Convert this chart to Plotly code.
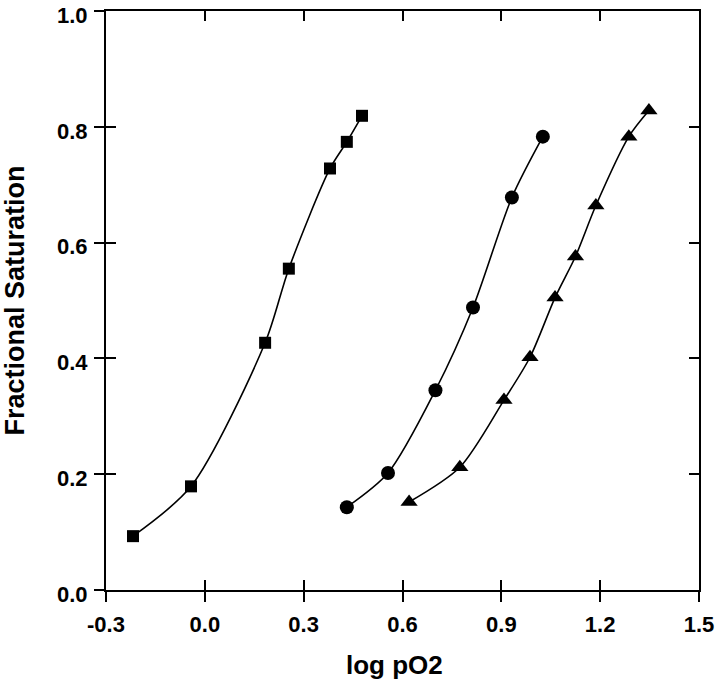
import plotly.graph_objects as go

# Data
sq_x = [-0.218, -0.042, 0.183, 0.255, 0.380, 0.431, 0.477]
sq_y = [0.093, 0.179, 0.427, 0.555, 0.728, 0.774, 0.819]

ci_x = [0.431, 0.556, 0.700, 0.814, 0.932, 1.026]
ci_y = [0.143, 0.202, 0.345, 0.488, 0.678, 0.783]

tr_x = [0.620, 0.774, 0.908, 0.987, 1.063, 1.125, 1.187, 1.287, 1.348]
tr_y = [0.152, 0.212, 0.328, 0.402, 0.505, 0.576, 0.664, 0.783, 0.828]

x_ticks = [-0.3, 0.0, 0.3, 0.6, 0.9, 1.2, 1.5]
x_labels = ["-0.3", "0.0", "0.3", "0.6", "0.9", "1.2", "1.5"]
y_ticks = [0.0, 0.2, 0.4, 0.6, 0.8, 1.0]
y_labels = ["0.0", "0.2", "0.4", "0.6", "0.8", "1.0"]

FONT = "Liberation Sans, Arial, sans-serif"

fig = go.Figure()
for xs, ys, sym, sz in [(sq_x, sq_y, "square", 12), (ci_x, ci_y, "circle", 14), (tr_x, tr_y, "triangle-up", 15)]:
    fig.add_trace(go.Scatter(
        x=xs, y=ys, mode="lines+markers",
        line=dict(color="black", width=1.6, shape="spline", smoothing=0.8),
        marker=dict(symbol=sym, size=sz, color="black"),
        showlegend=False, xaxis="x", yaxis="y",
    ))

# invisible trace to activate the overlay axes (inside ticks + mirrored frame)
fig.add_trace(go.Scatter(x=[x_ticks[1]], y=[y_ticks[1]], mode="markers",
                         marker=dict(opacity=0), xaxis="x2", yaxis="y2",
                         showlegend=False, hoverinfo="skip"))

common = dict(showline=True, linecolor="black", linewidth=2, tickcolor="black",
              tickwidth=2, ticklen=10, showgrid=False, zeroline=False, automargin=False)

fig.update_layout(
    width=720, height=692,
    margin=dict(l=106, r=21, t=11, b=102),
    paper_bgcolor="white", plot_bgcolor="white",
    xaxis=dict(range=[-0.3, 1.5], tickvals=x_ticks, ticktext=x_labels, ticks="outside",
               tickfont=dict(family=FONT, size=22, color="black", weight="bold"),
               ticklabeloverflow="allow", ticklabelstandoff=4, **common),
    yaxis=dict(range=[0, 1.0], tickvals=y_ticks, ticktext=y_labels, ticks="outside",
               tickfont=dict(family=FONT, size=22, color="black", weight="bold"),
               ticklabeloverflow="allow", ticklabelshift=4, ticklabelstandoff=2, **common),
    xaxis2=dict(range=[-0.3, 1.5], tickvals=x_ticks, ticks="inside", mirror="ticks",
                overlaying="x", anchor="y2", side="bottom", showticklabels=False, **common),
    yaxis2=dict(range=[0, 1.0], tickvals=y_ticks, ticks="inside", mirror="ticks",
                overlaying="y", anchor="x2", side="left", showticklabels=False, **common),
    annotations=[
        dict(text="<b>log pO2</b>", xref="paper", yref="paper", x=0.487, y=-0.129,
             xanchor="center", yanchor="middle", showarrow=False,
             font=dict(family=FONT, size=26, color="black")),
        dict(text="<b>Fractional Saturation</b>", xref="paper", yref="paper", x=-0.1535, y=0.5,
             xanchor="center", yanchor="middle", showarrow=False, textangle=-90,
             font=dict(family=FONT, size=27, color="black")),
    ],
)

fig.write_html("out.html", post_script="document.body.style.margin='0';",
               config={"displayModeBar": False})
